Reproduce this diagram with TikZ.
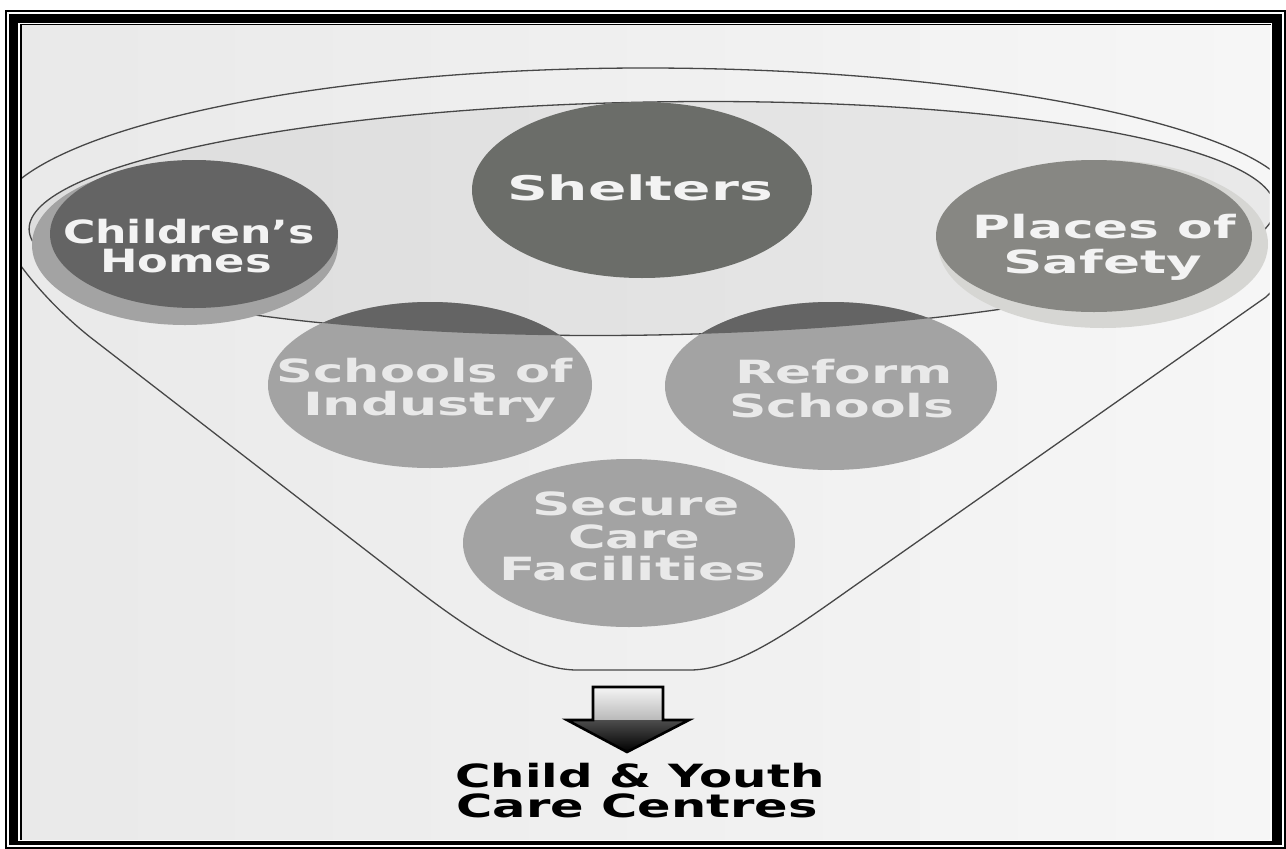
\documentclass[tikz,border=0pt]{standalone}
\usepackage{fontspec}
\usepackage{graphicx}
\setmainfont{DejaVu Sans}
\newcommand{\fitw}[2]{\resizebox{#1pt}{\height}{#2}}
\definecolor{darkc}{HTML}{646464}
\definecolor{lightc}{HTML}{A3A3A3}
\definecolor{shelc}{HTML}{6B6D69}
\definecolor{placeD}{HTML}{878783}
\definecolor{placeL}{HTML}{D6D6D3}
\definecolor{lineC}{HTML}{474747}
\definecolor{txtD}{HTML}{F3F3F3}
\definecolor{txtL}{HTML}{E9E9E9}
\tikzset{
  lbl/.style={font=\fontsize{32}{32}\selectfont\bfseries, text=txtD, anchor=base, inner sep=0pt},
  lbll/.style={lbl, text=txtL},
  capt/.style={lbl, text=black},
  funnel/.style={draw=lineC, line width=1.3pt},
}
\begin{document}
\begin{tikzpicture}[x=1pt,y=-1pt]
\useasboundingbox (0,0) rectangle (1286,849);
% ---- frame
\fill[black] (5,10) rectangle (1286,849);
\fill[white] (7,12) rectangle (1284,847);
\fill[black] (9,13.5) rectangle (1282,844.5);
\fill[white] (18.3,22.7) rectangle (1272,840.7);
\begin{scope}
\clip (22,25.5) rectangle (1269.5,839);
\shade[left color=gray!17, right color=gray!7] (22,25.5) rectangle (1269.5,839);
% lid
\coordinate (lidc) at (652,218.5);
\fill[black, opacity=0.05, rotate around={1:(lidc)}] (lidc) ellipse [x radius=623pt, y radius=116.5pt];
% outer funnel
\draw[funnel] (-5,220) .. controls (-5,140) and (286,68) .. (645,68)
  .. controls (1004,68) and (1295,135) .. (1295,205)
  .. controls (1295,250) and (1285,280) .. (1266,297)
  -- (860,582) .. controls (800,624) and (740,670) .. (690,670)
  -- (577,670) .. controls (530,670) and (470,630) .. (420,592)
  -- (90,337) .. controls (50,305) and (10,260) .. (-5,220);
\draw[funnel, rotate around={1:(lidc)}] (lidc) ellipse [x radius=623pt, y radius=116.5pt];
% circle centres
\coordinate (cShel) at (642,190);
\coordinate (cChild) at (185,245);
\coordinate (cChildD) at (194,234);
\coordinate (cPlace) at (1103,244);
\coordinate (cPlaceD) at (1094,236);
\coordinate (cInd) at (430,385);
\coordinate (cRef) at (831,386);
\coordinate (cSec) at (629,543);
% light (outside lid) parts
\fill[lightc] (cChild) ellipse [x radius=153pt, y radius=80pt];
\fill[placeL] (cPlace) ellipse [x radius=165pt, y radius=84pt];
\fill[lightc] (cInd) ellipse [x radius=162pt, y radius=83pt];
\fill[lightc] (cRef) ellipse [x radius=166pt, y radius=84pt];
\fill[lightc] (cSec) ellipse [x radius=166pt, y radius=84pt];
% dark parts inside lid
\begin{scope}
\clip[rotate around={1:(lidc)}] (lidc) ellipse [x radius=623pt, y radius=116.5pt];
\fill[darkc] (cInd) ellipse [x radius=162pt, y radius=83pt];
\fill[darkc] (cRef) ellipse [x radius=166pt, y radius=84pt];
\end{scope}
\fill[darkc] (cChildD) ellipse [x radius=144pt, y radius=74pt];
\fill[placeD] (cPlaceD) ellipse [x radius=158pt, y radius=76pt];
\fill[shelc] (cShel) ellipse [x radius=170pt, y radius=88pt];
% labels
\node[lbl, font=\fontsize{34}{34}\selectfont\bfseries] (tShel) at (640,200) {\fitw{266}{Shelters}};
\node[lbl] (tChildA) at (189,243) {\fitw{252}{Children's}};
\node[lbl] (tChildB) at (186,272) {\fitw{172}{Homes}};
\node[lbl] (tPlaceA) at (1104,238) {\fitw{263}{Places of}};
\node[lbl] (tPlaceB) at (1103,273) {\fitw{199}{Safety}};
\node[lbll] (tIndA) at (425,382) {\fitw{296}{Schools of}};
\node[lbll] (tIndB) at (430,415) {\fitw{254}{Industry}};
\node[lbll] (tRefA) at (844,383) {\fitw{218}{Reform}};
\node[lbll] (tRefB) at (842,417) {\fitw{225}{Schools}};
\node[lbll] (tSecA) at (636,515) {\fitw{207}{Secure}};
\node[lbll] (tSecB) at (634,548) {\fitw{132}{Care}};
\node[lbll] (tSecC) at (633,580) {\fitw{267}{Facilities}};
% arrow
\coordinate (aTL) at (593,687);
\coordinate (aTR) at (663,687);
\coordinate (aSR) at (663,720);
\coordinate (aHR) at (689,720);
\coordinate (aTip) at (627,752);
\coordinate (aHL) at (567,720);
\coordinate (aSL) at (593,720);
\shade[top color=gray!8, bottom color=gray!55] (aTL) rectangle (aSR);
\shade[top color=black!70, bottom color=black] (aHL) -- (aHR) -- (aTip) -- cycle;
\draw[black, line width=2.6pt, line join=miter] (aTL) -- (aTR) -- (aSR) -- (aHR) -- (aTip) -- (aHL) -- (aSL) -- cycle;
% caption
\node[capt] (tCapA) at (640,787) {\fitw{369}{Child \& Youth}};
\node[capt] (tCapB) at (637,817) {\fitw{361}{Care Centres}};
\end{scope}
\draw[black, line width=1.7pt] (20.8,839.5) -- (20.8,24.6) -- (1271,24.6);
\end{tikzpicture}
\end{document}
